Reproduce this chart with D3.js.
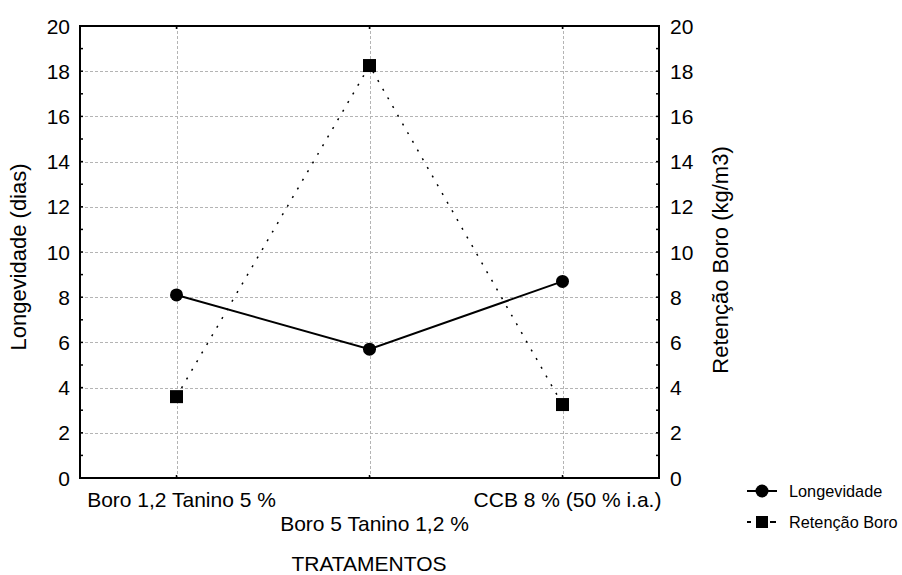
<!DOCTYPE html>
<html>
<head>
<meta charset="utf-8">
<script src="https://cdn.jsdelivr.net/npm/d3@7"></script>
<style>
  body { margin: 0; background: #fff; }
  text { font-family: "Liberation Sans", Arial, sans-serif; fill: #000; }
</style>
</head>
<body>
<div id="graph"></div>
<script>
// treatments on the x axis
var categories = ["Boro 1,2 Tanino 5 %", "Boro 5 Tanino 1,2 %", "CCB 8 % (50 % i.a.)"];
// longevity (days), left axis
var longevidade = [8.1, 5.7, 8.7];
// boron retention (kg/m3), right axis
var retencao = [3.6, 18.25, 3.25];
var yTicks = [0, 2, 4, 6, 8, 10, 12, 14, 16, 18, 20];
var yMinor = [1, 3, 5, 7, 9, 11, 13, 15, 17, 19];

var width = 902, height = 575;
var pLeft = 80, pRight = 659, pTop = 26, pBottom = 478;

var svg = d3.select("#graph").append("svg")
  .attr("width", width)
  .attr("height", height);

var x = d3.scalePoint().domain(categories).range([pLeft, pRight]).padding(0.5);
var yL = d3.scaleLinear().domain([0, 20]).range([pBottom, pTop]);
var yR = d3.scaleLinear().domain([0, 20]).range([pBottom, pTop]);

// grid
var grid = svg.append("g").attr("stroke", "#b4b4b4").attr("stroke-width", 1)
  .attr("stroke-dasharray", "3,2");
grid.selectAll(".gy").data(yTicks.slice(1, -1)).enter().append("line")
  .attr("x1", pLeft).attr("x2", pRight)
  .attr("y1", function(d) { return Math.round(yL(d)) + 0.5; })
  .attr("y2", function(d) { return Math.round(yL(d)) + 0.5; });
grid.selectAll(".gx").data(categories).enter().append("line")
  .attr("y1", pTop).attr("y2", pBottom)
  .attr("x1", function(d) { return Math.round(x(d)) + 0.5; })
  .attr("x2", function(d) { return Math.round(x(d)) + 0.5; });

// frame
svg.append("rect")
  .attr("x", pLeft).attr("y", pTop)
  .attr("width", pRight - pLeft).attr("height", pBottom - pTop)
  .attr("fill", "none").attr("stroke", "#000").attr("stroke-width", 2);

// inward ticks
var tk = svg.append("g").attr("stroke", "#000").attr("stroke-width", 1.5);
yTicks.concat(yMinor).forEach(function(v) {
  var yy = yL(v);
  tk.append("line").attr("x1", pLeft).attr("x2", pLeft + 3).attr("y1", yy).attr("y2", yy);
  tk.append("line").attr("x1", pRight).attr("x2", pRight - 3).attr("y1", yy).attr("y2", yy);
});
categories.forEach(function(c) {
  tk.append("line").attr("x1", x(c)).attr("x2", x(c)).attr("y1", pTop).attr("y2", pTop + 3);
  tk.append("line").attr("x1", x(c)).attr("x2", x(c)).attr("y1", pBottom).attr("y2", pBottom - 3);
});

// tick labels
svg.selectAll(".tl").data(yTicks).enter().append("text")
  .attr("x", 70).attr("y", function(d) { return yL(d) + 7.5; })
  .attr("text-anchor", "end").attr("font-size", 21)
  .text(function(d) { return d; });
svg.selectAll(".tr").data(yTicks).enter().append("text")
  .attr("x", 670).attr("y", function(d) { return yR(d) + 7.5; })
  .attr("text-anchor", "start").attr("font-size", 21)
  .text(function(d) { return d; });

// category labels, staggered
svg.selectAll(".cl").data(categories).enter().append("text")
  .attr("x", function(d) { return x(d) + 5; })
  .attr("y", function(d, i) { return i == 1 ? 531 : 507; })
  .attr("text-anchor", "middle").attr("font-size", 21)
  .text(function(d) { return d; });

// axis titles
svg.append("text").attr("x", 369).attr("y", 571)
  .attr("text-anchor", "middle").attr("font-size", 21).text("TRATAMENTOS");
svg.append("text").attr("transform", "translate(26,257) rotate(-90)")
  .attr("text-anchor", "middle").attr("font-size", 22).text("Longevidade (dias)");
svg.append("text").attr("transform", "translate(728,260) rotate(-90)")
  .attr("text-anchor", "middle").attr("font-size", 22).text("Retenção Boro (kg/m3)");

// series
var lineL = d3.line().x(function(d, i) { return x(categories[i]); }).y(function(d) { return yL(d); });
var lineR = d3.line().x(function(d, i) { return x(categories[i]); }).y(function(d) { return yR(d); });

svg.append("path").datum(retencao).attr("d", lineR)
  .attr("fill", "none").attr("stroke", "#000").attr("stroke-width", 1.5)
  .attr("stroke-dasharray", "2,8");
svg.append("path").datum(longevidade).attr("d", lineL)
  .attr("fill", "none").attr("stroke", "#000").attr("stroke-width", 2);

svg.selectAll(".sq").data(retencao).enter().append("rect")
  .attr("x", function(d, i) { return x(categories[i]) - 6.5; })
  .attr("y", function(d) { return yR(d) - 6.5; })
  .attr("width", 13).attr("height", 13).attr("fill", "#000");
svg.selectAll(".ci").data(longevidade).enter().append("circle")
  .attr("cx", function(d, i) { return x(categories[i]); })
  .attr("cy", function(d) { return yL(d); })
  .attr("r", 6.5).attr("fill", "#000");

// legend
var lg = svg.append("g");
lg.append("line").attr("x1", 747).attr("x2", 777).attr("y1", 491).attr("y2", 491)
  .attr("stroke", "#000").attr("stroke-width", 2);
lg.append("circle").attr("cx", 762).attr("cy", 491).attr("r", 6.5).attr("fill", "#000");
lg.append("text").attr("x", 789).attr("y", 497).attr("font-size", 16.3).text("Longevidade");
lg.append("line").attr("x1", 747).attr("x2", 751).attr("y1", 522).attr("y2", 522)
  .attr("stroke", "#000").attr("stroke-width", 2);
lg.append("line").attr("x1", 770).attr("x2", 776).attr("y1", 522).attr("y2", 522)
  .attr("stroke", "#000").attr("stroke-width", 2);
lg.append("rect").attr("x", 756).attr("y", 516).attr("width", 12).attr("height", 12).attr("fill", "#000");
lg.append("text").attr("x", 789).attr("y", 528).attr("font-size", 16.3).text("Retenção Boro");
</script>
</body>
</html>
